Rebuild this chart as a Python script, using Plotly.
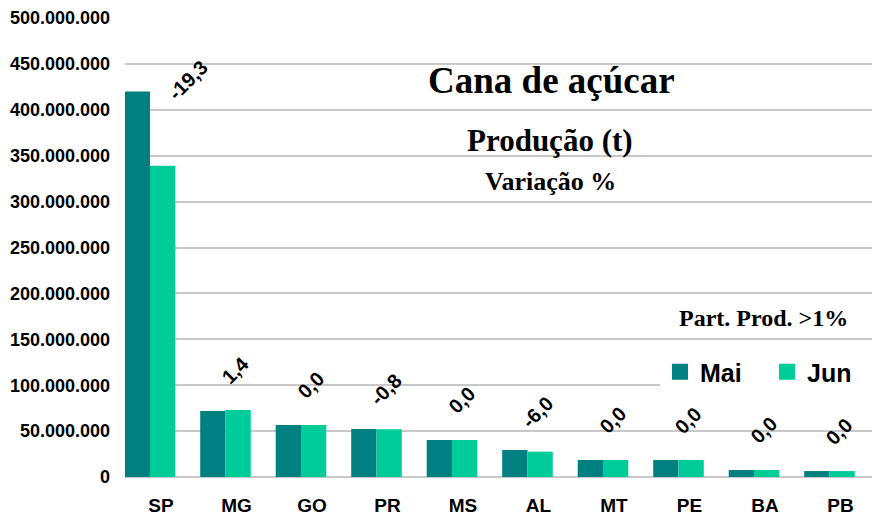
import plotly.graph_objects as go

states = ["SP", "MG", "GO", "PR", "MS", "AL", "MT", "PE", "BA", "PB"]
mai = [420_000_000, 72_000_000, 56_600_000, 52_300_000, 40_300_000, 29_400_000, 18_500_000, 18_500_000, 7_600_000, 6_500_000]
jun = [339_000_000, 73_000_000, 56_600_000, 51_900_000, 40_300_000, 27_600_000, 18_500_000, 18_500_000, 7_600_000, 6_500_000]
variacao = ["-19,3", "1,4", "0,0", "-0,8", "0,0", "-6,0", "0,0", "0,0", "0,0", "0,0"]
y_ticks = [0, 50_000_000, 100_000_000, 150_000_000, 200_000_000, 250_000_000,
           300_000_000, 350_000_000, 400_000_000, 450_000_000, 500_000_000]

W, H = 872, 517
L, R, T, B = 125, 0, 18, 40
pw, ph = W - L - R, H - T - B
MAI_COLOR, JUN_COLOR = "#008080", "#00CC99"


def px(x):
    return (x - L) / pw


def py(y):
    return (H - B - y) / ph


fig = go.Figure()
fig.add_trace(go.Bar(name="Mai", x=states, y=mai, marker_color=MAI_COLOR, marker_line_width=0, showlegend=False))
fig.add_trace(go.Bar(name="Jun", x=states, y=jun, marker_color=JUN_COLOR, marker_line_width=0, showlegend=False))
# legend proxies (square swatches)
for name, col in [("Mai", MAI_COLOR), ("Jun", JUN_COLOR)]:
    fig.add_trace(go.Scatter(name=name, x=[None], y=[None], mode="markers",
                             marker=dict(symbol="square", size=16, color=col), showlegend=True))

# label nudges (pixels) — SP label was moved manually in the original
nudge = {"SP": (28, 46)}
for s, v, t in zip(states, jun, variacao):
    dx, dy = nudge.get(s, (0, 0))
    fig.add_annotation(x=s, y=v, text=t, showarrow=False, textangle=-45,
                       xanchor="center", yanchor="middle",
                       xshift=10 + dx, yshift=40 + dy,
                       font=dict(family="Liberation Sans", size=20, color="black", weight="bold"))

serif = "Liberation Serif"
for txt, cx, cy, sz in [("Cana de açúcar", 551, 80, 37),
                        ("Produção (t)", 550, 140, 31),
                        ("Variação %", 550, 181, 26),
                        ("Part. Prod. >1%", 763, 318, 24)]:
    fig.add_annotation(xref="paper", yref="paper", x=px(cx), y=py(cy), text="<b>" + txt + "</b>",
                       xanchor="center", yanchor="middle",
                       showarrow=False, font=dict(family=serif, size=sz, color="black"))

fig.update_layout(
    width=W, height=H,
    margin=dict(l=L, r=R, t=T, b=B, pad=0, autoexpand=False),
    paper_bgcolor="white", plot_bgcolor="white",
    barmode="group", bargap=0.33, bargroupgap=0,
    separators=",.",
    showlegend=True,
    legend=dict(orientation="h", x=px(660), y=py(349), xanchor="left", yanchor="top",
                bgcolor="white", font=dict(family="Liberation Sans", size=25, color="black", weight="bold"),
                itemsizing="trace", entrywidth=62, traceorder="normal"),
    xaxis=dict(range=[-0.331, 9.563], showgrid=False, showline=False, ticks="", automargin=False,
               tickfont=dict(family="Liberation Sans", size=19, color="black", weight="bold"),
               ticklabelshift=11, ticklabelstandoff=15, fixedrange=True),
    yaxis=dict(range=[0, 500_000_000], tickvals=y_ticks, tickformat=",.0f", automargin=False,
               showgrid=True, gridcolor="#C8C8C8", gridwidth=1.5,
               zeroline=True, zerolinecolor="#C8C8C8", zerolinewidth=1.5,
               showline=False, ticks="", ticklabelstandoff=14, fixedrange=True,
               tickfont=dict(family="Liberation Sans", size=18, color="black", weight="bold")),
)

fig.write_html("out.html", config={"displayModeBar": False},
               post_script="document.body.style.margin='0';")
